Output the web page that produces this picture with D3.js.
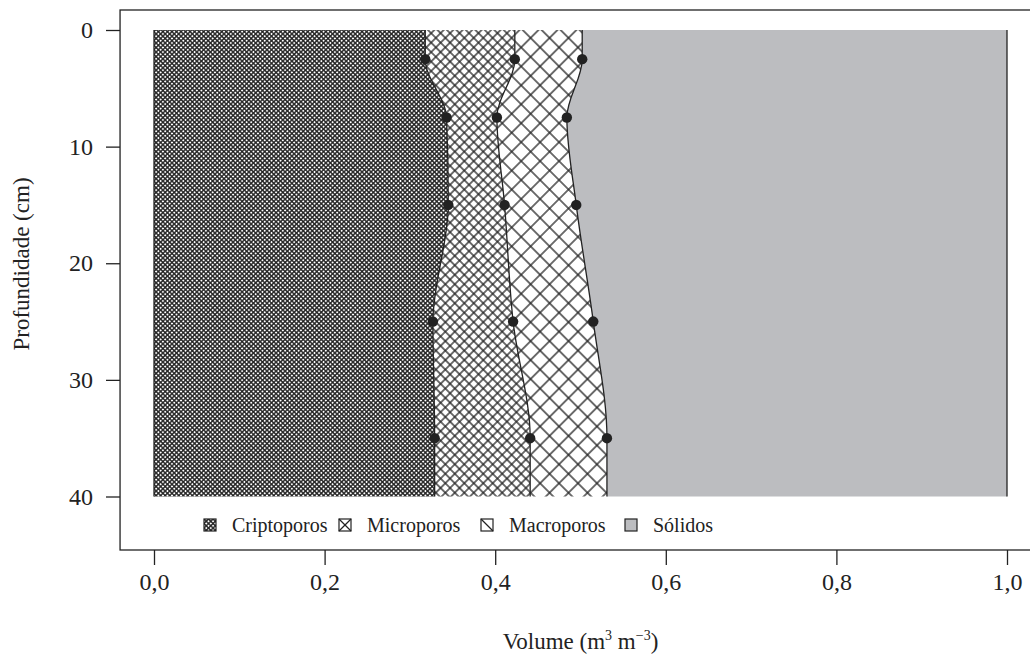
<!DOCTYPE html>
<html><head><meta charset="utf-8">
<script src="https://cdn.jsdelivr.net/npm/d3@7"></script>
<style>
body{margin:0;background:#fff;}
</style></head>
<body>
<svg id="chart" width="1030" height="663"></svg>
<script>
// ---- data ----
const depths = [2.5, 7.5, 15, 25, 35];
const criptoporos = [0.318, 0.343, 0.345, 0.327, 0.329];
const microporos  = [0.105, 0.059, 0.066, 0.094, 0.112];
const macroporos  = [0.079, 0.082, 0.084, 0.094, 0.090];
const seriesNames = ["Criptoporos", "Microporos", "Macroporos", "Sólidos"];
const yTicks = [0, 10, 20, 30, 40];
const xTicks = [0, 0.2, 0.4, 0.6, 0.8, 1.0];
const depthRange = [0, 40];

const FONT = "Liberation Serif";
const FS_TICK = 24, FS_TITLE = 23, FS_LEG = 20;
const svg = d3.select("#chart").attr("font-family", FONT);
const x = d3.scaleLinear().domain([0, 1]).range([154, 1007]);
const y = d3.scaleLinear().domain(depthRange).range([30, 496.5]);
const ink = "#222";

// patterns
const defs = svg.append("defs");
function hatch(id, s, w) {
  const p = defs.append("pattern").attr("id", id).attr("patternUnits", "userSpaceOnUse")
    .attr("width", s).attr("height", s).attr("patternTransform", "rotate(45)");
  p.append("rect").attr("width", s).attr("height", s).attr("fill", "#fff");
  p.append("line").attr("x1", 0).attr("y1", 0).attr("x2", s).attr("y2", 0).attr("stroke", ink).attr("stroke-width", w);
  p.append("line").attr("x1", 0).attr("y1", s).attr("x2", s).attr("y2", s).attr("stroke", ink).attr("stroke-width", w);
  p.append("line").attr("x1", 0).attr("y1", 0).attr("x2", 0).attr("y2", s).attr("stroke", ink).attr("stroke-width", w);
  p.append("line").attr("x1", s).attr("y1", 0).attr("x2", s).attr("y2", s).attr("stroke", ink).attr("stroke-width", w);
}
hatch("pCripto", 3.2, 1.4);
hatch("pMicro", 6.7, 1.3);
hatch("pMacro", 13.4, 1.3);
const fills = ["url(#pCripto)", "url(#pMicro)", "url(#pMacro)", "#bcbdc0"];

// build rows: extend ends to domain limits with first/last values
const rows = depths.map((d, i) => ({depth: d, c: criptoporos[i], m: microporos[i], M: macroporos[i],
  s: 1 - criptoporos[i] - microporos[i] - macroporos[i]}));
const ext = [{...rows[0], depth: depthRange[0]}, ...rows, {...rows[rows.length - 1], depth: depthRange[1]}];
const stack = d3.stack().keys(["c", "m", "M", "s"])(ext);

// plot box
svg.append("rect").attr("x", x(-0.0398)).attr("y", 10).attr("width", 1100).attr("height", 540)
  .attr("fill", "none").attr("stroke", ink).attr("stroke-width", 1.3);

const curve = d3.curveMonotoneY;
stack.forEach((layer, k) => {
  const area = d3.area().curve(curve)
    .y((d, i) => y(ext[i].depth)).x0(d => x(d[0])).x1(d => x(d[1]));
  svg.append("path").datum(layer).attr("d", area).attr("fill", fills[k]).attr("stroke", "none");
});
// boundary lines
stack.forEach((layer, k) => {
  const line = d3.line().curve(curve).y((d, i) => y(ext[i].depth)).x(d => x(d[1]));
  svg.append("path").datum(layer).attr("d", line).attr("fill", "none").attr("stroke", ink).attr("stroke-width", 1.3);
});
// left edge
svg.append("line").attr("x1", x(0)).attr("x2", x(0)).attr("y1", y(0)).attr("y2", y(40)).attr("stroke", ink).attr("stroke-width", 1.3);

// points
stack.slice(0, 3).forEach(layer => {
  svg.append("g").selectAll("circle").data(layer.slice(1, -1)).join("circle")
    .attr("cx", d => x(d[1])).attr("cy", (d, i) => y(depths[i])).attr("r", 5.2).attr("fill", ink);
});

// axes
const fmt = v => d3.format(".1f")(v).replace(".", ",");
const ya = svg.append("g").attr("transform", "translate(120,0)")
  .call(d3.axisLeft(y).tickValues(yTicks).tickSize(14).tickPadding(13));
const xa = svg.append("g").attr("transform", "translate(0,550)")
  .call(d3.axisBottom(x).tickValues(xTicks).tickSize(15).tickPadding(8).tickFormat(fmt));
[ya, xa].forEach(a => {
  a.attr("font-family", FONT);
  a.select(".domain").remove();
  a.selectAll("line").attr("stroke", ink).attr("stroke-width", 1.3);
  a.selectAll("text").attr("font-size", FS_TICK).attr("fill", ink);
});

// axis titles
svg.append("text").attr("transform", "translate(29,264) rotate(-90)").attr("text-anchor", "middle")
  .attr("font-size", FS_TITLE).attr("fill", ink).text("Profundidade (cm)");
const xt = svg.append("text").attr("x", x(0.5)).attr("y", 649).attr("text-anchor", "middle")
  .attr("font-size", FS_TITLE).attr("fill", ink);
xt.append("tspan").text("Volume (m");
xt.append("tspan").attr("dy", -9).attr("font-size", 14).text("3");
xt.append("tspan").attr("dy", 9).text(" m");
xt.append("tspan").attr("dy", -9).attr("font-size", 14).text("−3");
xt.append("tspan").attr("dy", 9).text(")");

// legend
const legX = [204, 339, 481, 625];
const lg = svg.append("g");
seriesNames.forEach((n, i) => {
  const g = lg.append("g").attr("transform", `translate(${legX[i]},519)`);
  const s = 12;
  if (i === 0) {
    g.append("rect").attr("width", s).attr("height", s).attr("fill", "url(#pCripto)");
  } else if (i === 3) {
    g.append("rect").attr("width", s).attr("height", s).attr("fill", fills[3]);
  } else {
    g.append("rect").attr("width", s).attr("height", s).attr("fill", "#fff");
    g.append("line").attr("x1", 0).attr("y1", 0).attr("x2", s).attr("y2", s).attr("stroke", ink).attr("stroke-width", 1.2);
    if (i === 1) g.append("line").attr("x1", s).attr("y1", 0).attr("x2", 0).attr("y2", s).attr("stroke", ink).attr("stroke-width", 1.2);
  }
  g.append("rect").attr("width", s).attr("height", s).attr("fill", "none").attr("stroke", ink).attr("stroke-width", 1.2);
  g.append("text").attr("x", 28).attr("y", 6).attr("dy", "0.35em").attr("font-size", FS_LEG).attr("fill", ink).text(n);
});
</script>
</body></html>
